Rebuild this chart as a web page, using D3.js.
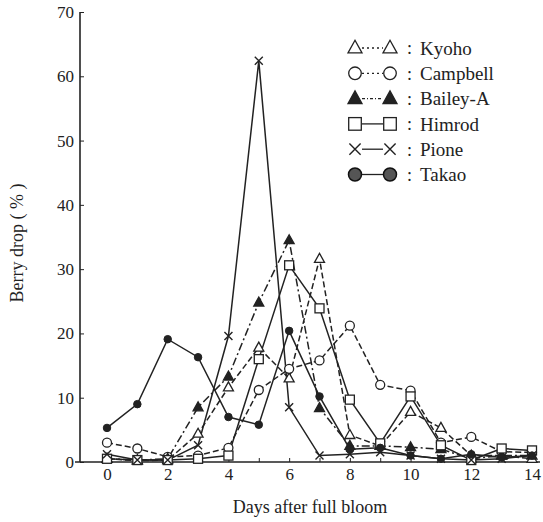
<!DOCTYPE html>
<html>
<head>
<meta charset="utf-8">
<script src="https://cdn.jsdelivr.net/npm/d3@7"></script>
<style>
  body { margin: 0; background: #fff; }
  text { font-family: "Liberation Serif", "DejaVu Serif", serif; fill: #222; }
</style>
</head>
<body>
<svg></svg>
<script>
let days = [0, 1, 2, 3, 4, 5, 6, 7, 8, 9, 10, 11, 12, 13, 14];
let xTicks = [0, 2, 4, 6, 8, 10, 12, 14];
let yTicks = [0, 10, 20, 30, 40, 50, 60, 70];

let kyoho    = [0.5, 0.2, 0.3, 4.4, 11.6, 17.8, 13.0, 31.6, 4.2, 2.5, 7.8, 5.3, 1.0, 1.0, 0.5];
let campbell = [3.0, 2.1, 0.8, 1.0, 2.2, 11.2, 14.5, 15.8, 21.2, 12.0, 11.1, 3.0, 3.9, 1.6, 1.5];
let baileyA  = [0.5, 0.3, 0.5, 8.5, 13.3, 24.8, 34.5, 8.4, 2.5, 2.5, 2.3, 2.0, 0.5, 1.0, 1.0];
let himrod   = [0.5, 0.3, 0.3, 0.5, 1.0, 16.0, 30.6, 23.9, 9.7, 2.9, 10.2, 2.6, 0.3, 2.1, 1.8];
let pione    = [1.2, 0.3, 0.3, 2.6, 19.6, 62.4, 8.5, 1.0, 1.2, 1.5, 1.0, 0.5, 0.3, 0.5, 1.0];
let takao    = [5.3, 9.0, 19.1, 16.3, 7.0, 5.8, 20.4, 10.2, 2.0, 2.2, 1.0, 0.5, 1.2, 0.7, 1.0];

let seriesNames = ['Kyoho', 'Campbell', 'Bailey-A', 'Himrod', 'Pione', 'Takao'];

let series = [
    {name: seriesNames[0], values: kyoho,    marker: 'triUp',  dash: '6,3',     legendDash: '2,3'},
    {name: seriesNames[1], values: campbell, marker: 'circle', dash: '6,3',     legendDash: '2,3'},
    {name: seriesNames[2], values: baileyA,  marker: 'triFill',dash: '8,3,2,3', legendDash: '3,2,1,2'},
    {name: seriesNames[3], values: himrod,   marker: 'square', dash: null,      legendDash: null},
    {name: seriesNames[4], values: pione,    marker: 'cross',  dash: null,      legendDash: null},
    {name: seriesNames[5], values: takao,    marker: 'dot',    dash: null,      legendDash: null}
];

let width = 543, height = 522;
let x = d3.scaleLinear().domain([0, 14]).range([107, 532]),
    y = d3.scaleLinear().domain([0, 70]).range([462, 12]);

let svg = d3.select('svg').attr('width', width).attr('height', height);

// axes
let xAxis = svg.append('g').attr('transform', `translate(0,${y(0)})`)
    .call(d3.axisBottom(x).tickValues(days).tickSize(-4).tickFormat(d => xTicks.includes(d) ? d : ''));
xAxis.select('.domain').remove();
xAxis.selectAll('line').attr('stroke', '#222');
xAxis.selectAll('text').attr('font-size', 17).attr('dy', '0.9em');
svg.append('line')
    .attr('x1', 75).attr('x2', 540).attr('y1', y(0)).attr('y2', y(0))
    .attr('stroke', '#222').attr('stroke-width', 1.6);

let yAxis = svg.append('g').attr('transform', 'translate(80,0)')
    .call(d3.axisLeft(y).tickValues(yTicks).tickSize(-4).tickPadding(6));
yAxis.select('.domain').remove();
yAxis.selectAll('line').attr('stroke', '#222');
yAxis.selectAll('text').attr('font-size', 17);
svg.append('line')
    .attr('x1', 80).attr('x2', 80).attr('y1', y(70)).attr('y2', y(0))
    .attr('stroke', '#222').attr('stroke-width', 1.6);

svg.append('text')
    .attr('x', 310).attr('y', 513)
    .attr('text-anchor', 'middle').attr('font-size', 18)
    .text('Days after full bloom');
svg.append('text')
    .attr('transform', 'translate(23,243) rotate(-90)')
    .attr('text-anchor', 'middle').attr('font-size', 18)
    .text('Berry drop ( % )');

// lines
let line = d3.line().x((d, i) => x(days[i])).y(d => y(d));

series.forEach(s => {
    svg.append('path')
        .attr('d', line(s.values))
        .attr('fill', 'none')
        .attr('stroke', '#222')
        .attr('stroke-width', 1.5)
        .attr('stroke-dasharray', s.dash);
});

function drawMarker(g, type, cx, cy, size){
    let r = size / 2;
    if(type == 'triUp' || type == 'triFill'){
        g.append('path')
            .attr('d', `M${cx},${cy - r * 1.1}L${cx + r},${cy + r * 0.7}L${cx - r},${cy + r * 0.7}Z`)
            .attr('fill', type == 'triFill' ? '#222' : '#fff')
            .attr('stroke', '#222').attr('stroke-width', 1.3);
    } else if(type == 'circle'){
        g.append('circle').attr('cx', cx).attr('cy', cy).attr('r', r * 0.9)
            .attr('fill', '#fff').attr('stroke', '#222').attr('stroke-width', 1.3);
    } else if(type == 'square'){
        g.append('rect').attr('x', cx - r * 0.9).attr('y', cy - r * 0.9)
            .attr('width', r * 1.8).attr('height', r * 1.8)
            .attr('fill', '#fff').attr('stroke', '#222').attr('stroke-width', 1.3);
    } else if(type == 'cross'){
        let k = r * 0.8;
        g.append('path')
            .attr('d', `M${cx - k},${cy - k}L${cx + k},${cy + k}M${cx + k},${cy - k}L${cx - k},${cy + k}`)
            .attr('stroke', '#222').attr('stroke-width', 1.4);
    } else if(type == 'dot'){
        g.append('circle').attr('cx', cx).attr('cy', cy).attr('r', r * 0.75)
            .attr('fill', '#222').attr('stroke', '#222');
    }
}

let markers = svg.append('g');
series.forEach(s => {
    s.values.forEach((v, i) => drawMarker(markers, s.marker, x(days[i]), y(v), 10));
});

// legend
let legend = svg.append('g');
series.forEach((s, i) => {
    let ly = 48 + i * 25.3;
    legend.append('line')
        .attr('x1', 362).attr('x2', 383).attr('y1', ly).attr('y2', ly)
        .attr('stroke', '#222').attr('stroke-width', 1.3)
        .attr('stroke-dasharray', s.legendDash);
    let lt = s.marker == 'dot' ? 'dotBig' : s.marker;
    [355, 390].forEach(lx => {
        if(lt == 'dotBig'){
            legend.append('circle').attr('cx', lx).attr('cy', ly).attr('r', 6.5)
                .attr('fill', '#555').attr('stroke', '#111').attr('stroke-width', 1.5);
        } else {
            drawMarker(legend, lt, lx, ly, 14);
        }
    });
    legend.append('text')
        .attr('x', 407).attr('y', ly).attr('dy', '0.35em')
        .attr('font-size', 18)
        .text(':');
    legend.append('text')
        .attr('x', 420).attr('y', ly).attr('dy', '0.35em')
        .attr('font-size', 19)
        .text(s.name);
});
</script>
</body>
</html>
